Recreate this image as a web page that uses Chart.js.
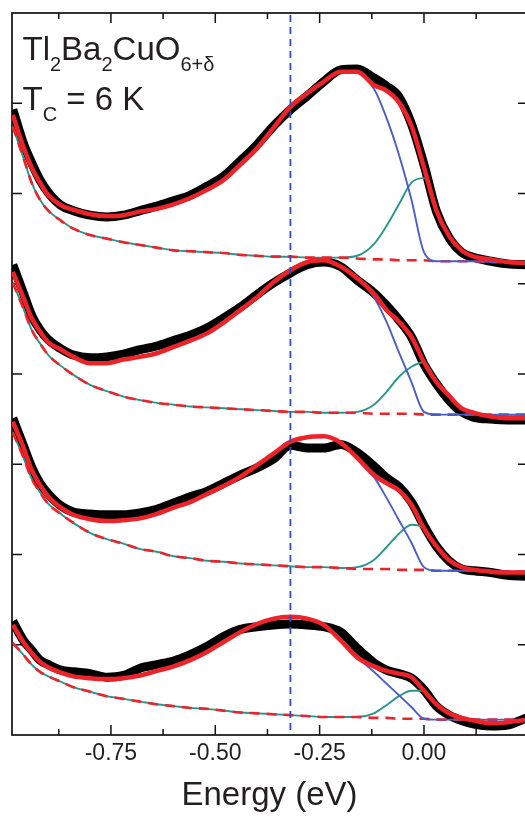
<!DOCTYPE html>
<html>
<head>
<meta charset="utf-8">
<script src="https://cdn.jsdelivr.net/npm/chart.js@4.4.1/dist/chart.umd.min.js"></script>
<style>
  html, body { margin: 0; padding: 0; overflow: hidden; background: #fff; }
  canvas { display: block; }
</style>
</head>
<body>
<canvas id="arpes" width="540" height="818"></canvas>
<script>
// Energy grid (eV) shared by every curve
const energy = [-0.985, -0.96, -0.94, -0.92, -0.90, -0.87, -0.84, -0.80, -0.76, -0.72, -0.68, -0.64,
  -0.60, -0.56, -0.52, -0.48, -0.44, -0.40, -0.36, -0.32, -0.28, -0.24, -0.20, -0.16,
  -0.12, -0.09, -0.06, -0.03, 0.00, 0.03, 0.06, 0.09, 0.12, 0.16, 0.20, 0.245];

// Spectrum 1 (top)
const measured1 = [6.93, 6.56, 6.34, 6.15, 6.01, 5.87, 5.81, 5.76, 5.74, 5.76, 5.81, 5.86, 5.92, 5.98, 6.08, 6.19, 6.36, 6.54, 6.75, 6.93, 7.08, 7.24, 7.37, 7.38, 7.28, 7.19, 7.07, 6.77, 6.32, 5.80, 5.51, 5.35, 5.29, 5.25, 5.22, 5.21];
const fit1 = [6.87, 6.52, 6.29, 6.12, 5.98, 5.87, 5.82, 5.77, 5.75, 5.76, 5.80, 5.83, 5.88, 5.95, 6.04, 6.15, 6.32, 6.50, 6.73, 6.96, 7.11, 7.24, 7.35, 7.35, 7.20, 7.14, 7.01, 6.75, 6.29, 5.81, 5.53, 5.37, 5.30, 5.27, 5.24, 5.23];
const broad1 = [6.87, 6.52, 6.29, 6.12, 5.98, 5.87, 5.82, 5.77, 5.75, 5.76, 5.80, 5.83, 5.88, 5.95, 6.04, 6.15, 6.32, 6.50, 6.73, 6.96, 7.11, 7.24, 7.35, 7.34, 7.16, 6.84, 6.43, 5.93, 5.35, 5.25, 5.25, 5.25, 5.25, 5.24, 5.24, 5.24];
const sharp1 = [6.74, 6.40, 6.12, 5.93, 5.81, 5.70, 5.61, 5.54, 5.50, 5.46, 5.43, 5.40, 5.37, 5.36, 5.35, 5.34, 5.32, 5.31, 5.30, 5.30, 5.29, 5.29, 5.29, 5.31, 5.44, 5.64, 5.88, 6.12, 6.17, 5.81, 5.53, 5.37, 5.30, 5.27, 5.24, 5.23];
const background1 = [6.74, 6.40, 6.12, 5.93, 5.81, 5.70, 5.61, 5.54, 5.50, 5.46, 5.43, 5.40, 5.37, 5.36, 5.35, 5.34, 5.32, 5.31, 5.30, 5.30, 5.29, 5.29, 5.29, 5.28, 5.27, 5.27, 5.26, 5.26, 5.26, 5.25, 5.25, 5.25, 5.25, 5.24, 5.24, 5.24];

// Spectrum 2
const measured2 = [5.21, 4.90, 4.65, 4.49, 4.38, 4.28, 4.21, 4.18, 4.19, 4.22, 4.27, 4.31, 4.37, 4.43, 4.51, 4.62, 4.74, 4.88, 5.01, 5.12, 5.21, 5.24, 5.19, 5.04, 4.90, 4.76, 4.60, 4.41, 4.11, 3.89, 3.71, 3.58, 3.52, 3.50, 3.49, 3.49];
const fit2 = [5.13, 4.85, 4.62, 4.47, 4.35, 4.27, 4.19, 4.12, 4.12, 4.16, 4.19, 4.23, 4.30, 4.37, 4.45, 4.57, 4.71, 4.85, 5.02, 5.15, 5.24, 5.26, 5.19, 5.06, 4.89, 4.71, 4.58, 4.41, 4.13, 3.91, 3.76, 3.62, 3.57, 3.53, 3.51, 3.51];
const broad2 = [5.13, 4.85, 4.62, 4.47, 4.35, 4.27, 4.19, 4.12, 4.12, 4.16, 4.19, 4.23, 4.30, 4.37, 4.45, 4.57, 4.71, 4.85, 5.02, 5.15, 5.24, 5.26, 5.19, 5.06, 4.85, 4.58, 4.24, 3.91, 3.58, 3.55, 3.55, 3.55, 3.55, 3.55, 3.55, 3.55];
const sharp2 = [5.01, 4.73, 4.49, 4.34, 4.21, 4.09, 3.99, 3.88, 3.81, 3.75, 3.71, 3.68, 3.66, 3.64, 3.63, 3.62, 3.61, 3.60, 3.59, 3.58, 3.58, 3.57, 3.57, 3.58, 3.66, 3.80, 3.97, 4.08, 4.13, 3.91, 3.76, 3.62, 3.57, 3.53, 3.51, 3.51];
const background2 = [5.01, 4.73, 4.49, 4.34, 4.21, 4.09, 3.99, 3.88, 3.81, 3.75, 3.71, 3.68, 3.66, 3.64, 3.63, 3.62, 3.61, 3.60, 3.59, 3.58, 3.58, 3.57, 3.57, 3.57, 3.56, 3.56, 3.56, 3.56, 3.55, 3.55, 3.55, 3.55, 3.55, 3.55, 3.55, 3.55];

// Spectrum 3
const measured3 = [3.51, 3.21, 2.97, 2.79, 2.67, 2.54, 2.47, 2.45, 2.44, 2.44, 2.46, 2.50, 2.57, 2.64, 2.70, 2.79, 2.88, 2.96, 3.06, 3.21, 3.18, 3.18, 3.22, 3.13, 2.98, 2.85, 2.75, 2.58, 2.32, 2.09, 1.93, 1.84, 1.82, 1.80, 1.77, 1.76];
const fit3 = [3.47, 3.19, 2.94, 2.77, 2.64, 2.52, 2.44, 2.39, 2.37, 2.38, 2.40, 2.45, 2.52, 2.58, 2.67, 2.76, 2.86, 2.99, 3.12, 3.25, 3.30, 3.31, 3.24, 3.07, 2.88, 2.79, 2.71, 2.55, 2.29, 2.09, 1.94, 1.86, 1.83, 1.81, 1.80, 1.80];
const broad3 = [3.47, 3.19, 2.94, 2.77, 2.64, 2.52, 2.44, 2.39, 2.37, 2.38, 2.40, 2.45, 2.52, 2.58, 2.67, 2.76, 2.86, 2.99, 3.12, 3.25, 3.30, 3.31, 3.24, 3.07, 2.86, 2.63, 2.38, 2.13, 1.86, 1.82, 1.82, 1.82, 1.82, 1.82, 1.81, 1.81];
const sharp3 = [3.35, 3.08, 2.84, 2.69, 2.56, 2.45, 2.35, 2.24, 2.17, 2.12, 2.06, 2.03, 1.98, 1.96, 1.93, 1.92, 1.90, 1.89, 1.88, 1.87, 1.86, 1.86, 1.85, 1.86, 1.94, 2.08, 2.23, 2.33, 2.29, 2.09, 1.94, 1.86, 1.83, 1.81, 1.80, 1.80];
const background3 = [3.35, 3.08, 2.84, 2.69, 2.56, 2.45, 2.35, 2.24, 2.17, 2.12, 2.06, 2.03, 1.98, 1.96, 1.93, 1.92, 1.90, 1.89, 1.88, 1.87, 1.86, 1.86, 1.85, 1.84, 1.84, 1.84, 1.83, 1.83, 1.83, 1.82, 1.82, 1.82, 1.82, 1.82, 1.81, 1.81];

// Spectrum 4 (bottom)
const measured4 = [1.26, 1.05, 0.94, 0.83, 0.78, 0.72, 0.70, 0.68, 0.64, 0.66, 0.74, 0.78, 0.82, 0.89, 0.98, 1.09, 1.17, 1.20, 1.22, 1.23, 1.22, 1.20, 1.14, 0.96, 0.80, 0.72, 0.68, 0.63, 0.50, 0.32, 0.22, 0.16, 0.12, 0.10, 0.11, 0.19];
const fit4 = [1.22, 1.03, 0.91, 0.81, 0.75, 0.69, 0.65, 0.63, 0.62, 0.63, 0.66, 0.71, 0.76, 0.83, 0.92, 1.03, 1.14, 1.23, 1.29, 1.31, 1.29, 1.22, 1.05, 0.86, 0.76, 0.71, 0.68, 0.64, 0.49, 0.34, 0.24, 0.19, 0.16, 0.13, 0.14, 0.17];
const broad4 = [1.22, 1.03, 0.91, 0.81, 0.75, 0.69, 0.65, 0.63, 0.62, 0.63, 0.66, 0.71, 0.76, 0.83, 0.92, 1.03, 1.14, 1.23, 1.29, 1.31, 1.29, 1.22, 1.05, 0.86, 0.70, 0.57, 0.44, 0.31, 0.18, 0.17, 0.17, 0.17, 0.17, 0.17, 0.17, 0.17];
const sharp4 = [1.02, 0.89, 0.78, 0.70, 0.65, 0.59, 0.53, 0.48, 0.43, 0.40, 0.37, 0.34, 0.32, 0.30, 0.29, 0.27, 0.25, 0.24, 0.23, 0.22, 0.21, 0.20, 0.20, 0.20, 0.24, 0.33, 0.43, 0.49, 0.49, 0.34, 0.24, 0.19, 0.16, 0.13, 0.14, 0.17];
const background4 = [1.02, 0.89, 0.78, 0.70, 0.65, 0.59, 0.53, 0.48, 0.43, 0.40, 0.37, 0.34, 0.32, 0.30, 0.29, 0.27, 0.25, 0.24, 0.23, 0.22, 0.21, 0.20, 0.20, 0.20, 0.19, 0.19, 0.18, 0.18, 0.18, 0.17, 0.17, 0.17, 0.17, 0.17, 0.17, 0.17];

// Axis ticks
const xLabelTicks = [-0.75, -0.50, -0.25, 0.00];
const xMinorTicks = [-0.875, -0.625, -0.375, -0.125, 0.125];
const yTicks = [1, 2, 3, 4, 5, 6, 7];
const markerEnergy = -0.32;

const RED = '#ee2229';
const BLUE = '#4b5ec6';
const TEAL = '#27978e';
const INK = '#231f20';
const FONT = '"Liberation Sans", Arial, sans-serif';

const pts = vals => energy.map((e, i) => ({ x: e, y: vals[i] }));

const spectra = [
  { measured: measured1, fit: fit1, broad: broad1, sharp: sharp1, background: background1 },
  { measured: measured2, fit: fit2, broad: broad2, sharp: sharp2, background: background2 },
  { measured: measured3, fit: fit3, broad: broad3, sharp: sharp3, background: background3 },
  { measured: measured4, fit: fit4, broad: broad4, sharp: sharp4, background: background4 }
];

const datasets = [];
spectra.forEach(s => {
  datasets.push({ data: pts(s.measured), borderColor: '#000', borderWidth: 9, order: 5 });
  datasets.push({ data: pts(s.sharp), borderColor: TEAL, borderWidth: 1.9, order: 4 });
  datasets.push({ data: pts(s.background), borderColor: RED, borderWidth: 2.6, borderDash: [10, 7], order: 3 });
  datasets.push({ data: pts(s.broad), borderColor: BLUE, borderWidth: 1.9, order: 2 });
  datasets.push({ data: pts(s.fit), borderColor: RED, borderWidth: 4.5, order: 1 });
});
datasets.forEach(d => { d.clip = 0; d.fill = false; });

// Frame with inward ticks on all four sides
const framePlugin = {
  id: 'frame',
  beforeDatasetsDraw(chart) {
    const { ctx, chartArea: a, scales: { x, y } } = chart;
    ctx.save();
    ctx.strokeStyle = '#111';
    ctx.lineWidth = 1.7;
    ctx.strokeRect(a.left, a.top, a.right - a.left, a.bottom - a.top);
    ctx.lineWidth = 1.5;
    ctx.beginPath();
    const vTick = (v, len) => {
      const p = x.getPixelForValue(v);
      ctx.moveTo(p, a.bottom); ctx.lineTo(p, a.bottom - len);
      ctx.moveTo(p, a.top); ctx.lineTo(p, a.top + len);
    };
    xLabelTicks.forEach(v => vTick(v, 10));
    xMinorTicks.forEach(v => vTick(v, 6));
    yTicks.forEach(v => {
      const p = y.getPixelForValue(v);
      ctx.moveTo(a.left, p); ctx.lineTo(a.left + 10, p);
      ctx.moveTo(a.right, p); ctx.lineTo(a.right - 9, p);
    });
    ctx.stroke();
    ctx.restore();
  },
  afterDatasetsDraw(chart) {
    const { ctx, chartArea: a, scales: { x } } = chart;
    const px = x.getPixelForValue(markerEnergy);
    ctx.save();
    ctx.strokeStyle = '#2d4bcf';
    ctx.lineWidth = 1.8;
    ctx.setLineDash([7, 5]);
    ctx.beginPath();
    ctx.moveTo(px, a.top + 2);
    ctx.lineTo(px, a.bottom);
    ctx.stroke();
    ctx.restore();

    // Sample formula and critical temperature
    const runs = (x0, y0, parts) => {
      let cx = x0;
      parts.forEach(([text, sub]) => {
        ctx.font = (sub ? '20px ' : '33px ') + FONT;
        ctx.fillText(text, cx, sub ? y0 + 11 : y0);
        cx += ctx.measureText(text).width;
      });
    };
    ctx.save();
    ctx.fillStyle = INK;
    ctx.textBaseline = 'alphabetic';
    runs(22.5, 59.5, [['Tl'], ['2', 1], ['Ba'], ['2', 1], ['CuO'], ['6+δ', 1]]);
    runs(22.5, 109.5, [['T'], ['C', 1], [' = 6 K']]);
    ctx.restore();
  }
};

new Chart(document.getElementById('arpes'), {
  type: 'line',
  data: { datasets },
  options: {
    responsive: false,
    animation: false,
    events: [],
    layout: { padding: { left: 12, top: 13, right: 13, bottom: 0 } },
    plugins: { legend: { display: false }, tooltip: { enabled: false } },
    elements: {
      point: { radius: 0 },
      line: { cubicInterpolationMode: 'monotone', borderJoinStyle: 'round', borderCapStyle: 'butt' }
    },
    scales: {
      x: {
        type: 'linear',
        min: -0.987,
        max: 0.2468,
        grid: { display: false, drawTicks: false },
        border: { display: false },
        afterBuildTicks: s => { s.ticks = xLabelTicks.map(v => ({ value: v })); },
        afterFit: s => { s.height = 83; },
        ticks: {
          padding: 5,
          color: INK,
          autoSkip: false,
          maxRotation: 0,
          font: { family: FONT, size: 23 },
          callback: v => Number(v).toFixed(2)
        },
        title: {
          display: true,
          text: 'Energy (eV)',
          color: INK,
          font: { family: FONT, size: 33 },
          padding: { top: 0, bottom: 2.5 }
        }
      },
      y: { display: false, min: 0, max: 8 }
    }
  },
  plugins: [framePlugin]
});
</script>
</body>
</html>
